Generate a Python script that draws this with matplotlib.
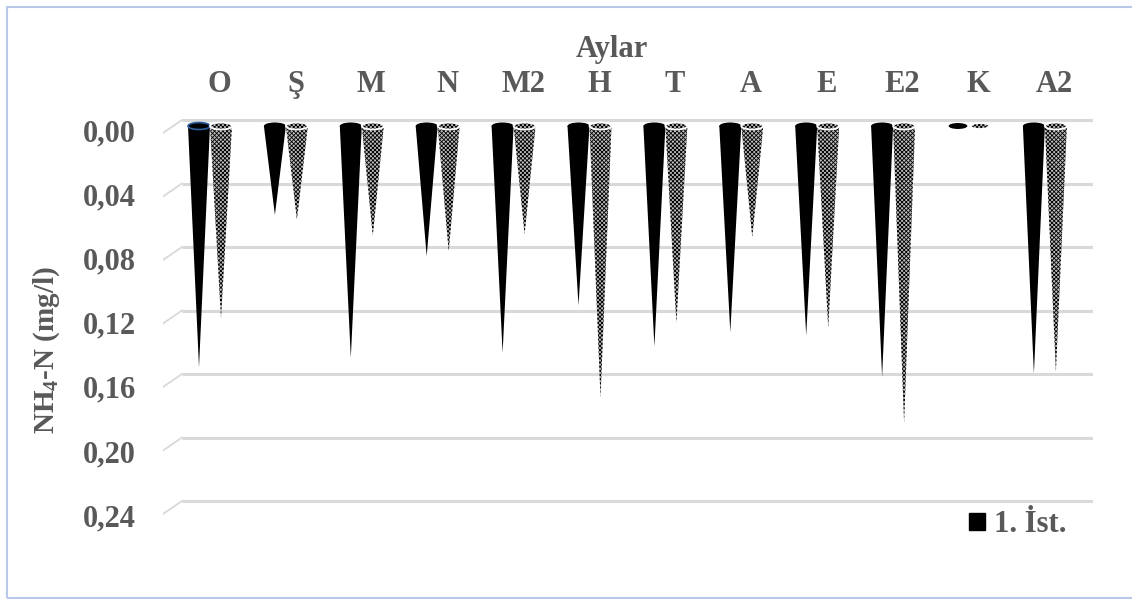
import matplotlib
matplotlib.use("Agg")
import matplotlib.pyplot as plt
from matplotlib.patches import Polygon, Ellipse, Rectangle, Patch
from matplotlib.transforms import ScaledTranslation, blended_transform_factory
import numpy as np

# ---------------- data ----------------
months = ["O", "Ş", "M", "N", "M2", "H", "T", "A", "E", "E2", "K", "A2"]
ist1 = [0.152, 0.056, 0.146, 0.082, 0.143, 0.113, 0.139, 0.130, 0.132, 0.158, 0.0, 0.156]
ist2 = [0.121, 0.059, 0.069, 0.079, 0.068, 0.171, 0.124, 0.070, 0.127, 0.187, 0.0, 0.155]
yticks = [0.00, 0.04, 0.08, 0.12, 0.16, 0.20, 0.24]
ytick_labels = ["0,00", "0,04", "0,08", "0,12", "0,16", "0,20", "0,24"]
series_label = "1. İst."
xlabel_text = "Aylar"
ylabel_text = r"NH$_\mathbf{4}$-N (mg/l)"

# ---------------- layout (pixels) ----------------
W, H, DPI = 1132, 601, 100
L, R, T, B = 163, 1093, 110, 530       # axes box
C0, S = 210.0, 75.9                   # first category center, category spacing
Y0, K = 126.0, 1587.5                 # pixel of value 0, pixels per unit
GREY = "#595959"

plt.rcParams["mathtext.fontset"] = "custom"
plt.rcParams["mathtext.rm"] = "Liberation Serif:bold"
plt.rcParams["mathtext.bf"] = "Liberation Serif:bold"
plt.rcParams["hatch.linewidth"] = 0.6
FONT = dict(family="Liberation Serif", weight="bold", color=GREY)

fig = plt.figure(figsize=(W / DPI, H / DPI), dpi=DPI)
ax = fig.add_axes([L / W, 1 - B / H, (R - L) / W, (B - T) / H])
ax.set_xlim((L - C0) / S, (R - C0) / S)
ax.set_ylim((B - Y0) / K, (T - Y0) / K)
for sp in ax.spines.values():
    sp.set_visible(False)
ax.set_yticks([])

# chart border
fig.patches.append(Rectangle((7 / W, 3 / H), 1.2, 1 - 10 / H, transform=fig.transFigure,
                             fill=False, edgecolor="#b7c9e6", lw=1.5, zorder=0))

# gridlines (back wall) with small side-wall diagonals
back = -6 / K
front = 7 / K
xg = (182 - C0) / S
x_left = ax.get_xlim()[0]
x_right = ax.get_xlim()[1]
for v in yticks:
    ax.plot([xg, x_right], [v + back, v + back], color="#d9d9d9", lw=2.2, zorder=1,
            solid_capstyle="butt")
    ax.plot([x_left, xg], [v + front, v + back], color="#d9d9d9", lw=1.3, zorder=1)

# y tick labels (front plane)
ytrans = blended_transform_factory(ax.transAxes, ax.transData) + \
    ScaledTranslation(-27 / DPI, -8 / DPI, fig.dpi_scale_trans)
for k, (v, lab) in enumerate(zip(yticks, ytick_labels)):
    ax.text(0, v, lab, transform=ytrans + ScaledTranslation(0, -0.6 * k / DPI, fig.dpi_scale_trans),
            ha="right", va="center", fontsize=22, **FONT)

# x tick labels (top)
x = np.arange(len(months))
ax.set_xticks(x + 9.5 / S)
ax.set_xticklabels(months, fontsize=22, fontfamily="Liberation Serif",
                   fontweight="bold", color=GREY)
ax.tick_params(axis="x", top=True, bottom=False, labeltop=True, labelbottom=False,
               length=0, pad=8)

fig.text(612 / W, 1 - 57 / H, xlabel_text, ha="center", va="baseline", fontsize=22, **FONT)
fig.text(47 / W, 1 - 350 / H, ylabel_text, rotation=90, ha="center", va="center",
         fontsize=21, **FONT)

# cones
hw = 11 / S
off = 11 / S
eh = 7 / K


def cone(xc, v, hatched, rim=None):
    scale = 0.85 if v == 0 else 1.0
    tri = [(xc - hw, 0), (xc + hw, 0), (xc, v)]
    if hatched:
        ax.add_patch(Polygon(tri, closed=True, facecolor="#bdbdbd", edgecolor="black",
                             hatch="xxxxxxxx", lw=0, zorder=3))
        ax.add_patch(Ellipse((xc, 0), 2 * hw * scale, eh * scale, facecolor="#bdbdbd",
                             edgecolor="black", hatch="xxxxxxxx", lw=0, zorder=3))
        ax.add_patch(Ellipse((xc, 0), 2 * hw * scale, eh * scale, fill=False,
                             edgecolor="white", lw=1.3, zorder=3))
    else:
        ax.add_patch(Polygon(tri, closed=True, facecolor="black", edgecolor="none",
                             zorder=2))
        ax.add_patch(Ellipse((xc, 0), 2 * hw * scale, eh * scale, facecolor="black",
                             edgecolor=rim if rim else "black", lw=1.2 if rim else 0,
                             zorder=2))


for i, (a, b) in enumerate(zip(ist1, ist2)):
    cone(x[i] - off, a, False, rim="#2f5f9e" if i == 0 else None)
    cone(x[i] + off, b, True)

# legend (only first series)
leg = fig.legend(handles=[Patch(facecolor="black", edgecolor="black")],
                 labels=[series_label], loc="center left",
                 bbox_to_anchor=(954 / W, 1 - 525 / H), frameon=False,
                 handlelength=0.5, handleheight=0.5, handletextpad=0.3,
                 borderpad=0, prop=dict(family="Liberation Serif", weight="bold", size=22))
for t in leg.get_texts():
    t.set_color(GREY)

fig.savefig("out.png", dpi=DPI)
